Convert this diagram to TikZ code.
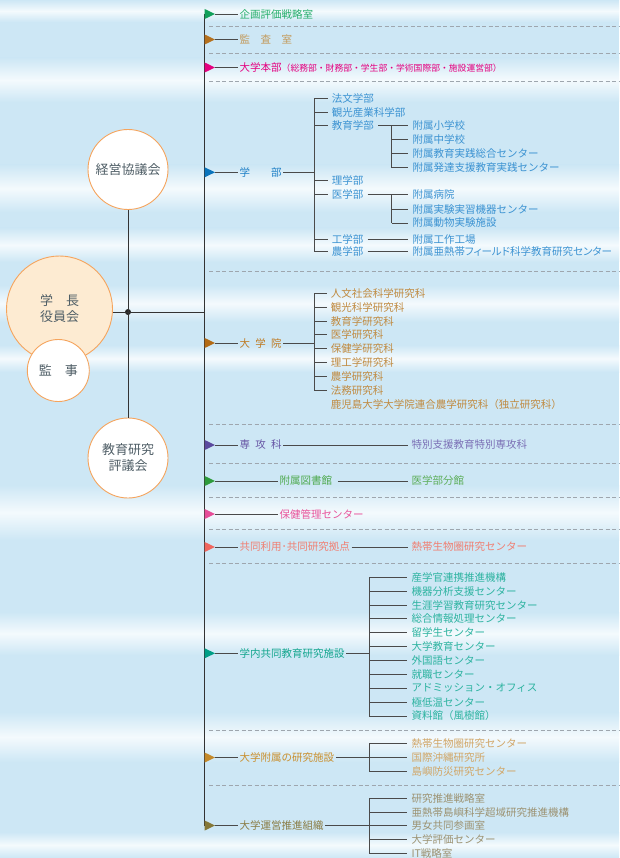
\documentclass[tikz,border=0pt]{standalone}
\usepackage{fontspec}
\setmainfont{Noto Sans CJK JP}
\newfontfamily\paltfont[RawFeature=+palt]{Noto Sans CJK JP}
\usetikzlibrary{calc}
\definecolor{bg}{HTML}{CDE7F5}
\definecolor{bglight}{HTML}{F4FAFD}
\definecolor{lc}{HTML}{4A4A4A}
\definecolor{mlc}{HTML}{333333}
\definecolor{dc}{HTML}{9EA6AE}
\definecolor{orc}{HTML}{F5A45D}
\definecolor{peach}{HTML}{FDEBD2}
\definecolor{ctext}{HTML}{4F5E66}
\definecolor{aA}{HTML}{12A05A}\definecolor{tA}{HTML}{25AE6B}
\definecolor{aB}{HTML}{B5711E}\definecolor{tB}{HTML}{C39A5B}
\definecolor{aC}{HTML}{E4007F}\definecolor{tC}{HTML}{E4007F}
\definecolor{aD}{HTML}{0A74BC}\definecolor{tD}{HTML}{1F80C6}\definecolor{cD}{HTML}{3C93D2}
\definecolor{aE}{HTML}{B36A14}\definecolor{tE}{HTML}{BF7A22}\definecolor{cE}{HTML}{C08A40}
\definecolor{aF}{HTML}{5B4A9E}\definecolor{tF}{HTML}{6756A5}\definecolor{cF}{HTML}{7B6FB5}
\definecolor{aG}{HTML}{2E9B3C}\definecolor{tG}{HTML}{4FAA4F}\definecolor{cG}{HTML}{5DAE5A}
\definecolor{aH}{HTML}{E64D98}\definecolor{tH}{HTML}{E8559C}
\definecolor{aI}{HTML}{F0665E}\definecolor{tI}{HTML}{F07F72}
\definecolor{aJ}{HTML}{009E86}\definecolor{tJ}{HTML}{12A58E}\definecolor{cJ}{HTML}{2DB3A0}
\definecolor{aK}{HTML}{C4892A}\definecolor{tK}{HTML}{C98F2E}\definecolor{cK}{HTML}{D1A667}
\definecolor{aL}{HTML}{857838}\definecolor{tL}{HTML}{8A7C45}\definecolor{cL}{HTML}{9C9272}
\newcommand{\fsItem}{\fontsize{10.5pt}{12pt}\selectfont}
\newcommand{\fsSmall}{\fontsize{8.8pt}{10pt}\selectfont}
\newcommand{\fsCirc}{\fontsize{13pt}{16pt}\selectfont}
\newcommand{\mk}[3]{\coordinate (#1) at (215,#2); \fill[#3] (204.7,{#2-5}) -- (#1) -- (204.7,{#2+5}) -- cycle;}
\tikzset{
  conn/.style={draw=lc, line width=0.9pt},
  mainln/.style={draw=mlc, line width=1pt},
  dsh/.style={draw=dc, line width=0.8pt, dash pattern=on 4pt off 2.5pt},
  lbl/.style={anchor=west, inner xsep=1.5pt, inner ysep=1pt, font=\fsItem},
  item/.style={anchor=west, inner xsep=4pt, inner ysep=1pt, font=\fsItem},
  circ/.style={circle, draw=orc, line width=0.9pt, fill=white, text=ctext, font=\fsCirc, align=center, inner sep=0pt},
  dotn/.style={circle, fill=black!85, inner sep=0pt, minimum size=6pt}
}
\begin{document}
\begin{tikzpicture}[x=1pt,y=-1pt]
\useasboundingbox (0,0) rectangle (619,858);
\fill[bg] (0,0) rectangle (619,858);
\foreach \a/\b in {0/22, 58/102, 165/212, 228/262, 285/322, 345/372, 485/540, 612/655, 712/762, 832/858}{
  \shade[top color=bg, bottom color=bg, middle color=bglight] (0,\a) rectangle (619,\b);
}
% dashed separators
\foreach \y in {26,53,81,271,424,463,497,529,563,730,785}{
  \draw[dsh] (209,\y) -- (619,\y);
}
% main vertical line
\coordinate (mtop) at (204.7,14);
\coordinate (mbot) at (204.7,826);
\draw[mainln] (mtop) -- (mbot);

% left circles
\node[dotn] (jn) at (128,312) {};
\node[circ, minimum size=80pt] (keiei) at (128,169.5) {経営協議会};
\node[circ, minimum size=80pt] (kyogi) at (128,458) {教育研究\\評議会};
\draw[mainln] (keiei.south) -- (kyogi.north);
\node[circ, minimum size=106pt, fill=peach] (gakucho) at (59.5,309) {学　長\\役員会};
\node[circ, minimum size=62pt] (kanji) at (58.3,370.5) {監　事};
\draw[mainln] (gakucho.east |- jn) -- (jn -| mtop);

% 1
\mk{t1}{14}{aA}
\node[lbl, text=tA] (kikaku) at (238,14) {企画評価戦略室};
\draw[conn] (t1) -- (kikaku.west);
% 2
\mk{t2}{39.5}{aB}
\node[lbl, text=tB] (kansa) at (238,39.5) {監　査　室};
\draw[conn] (t2) -- (kansa.west);
% 3
\mk{t3}{67.5}{aC}
\node[lbl, text=tC] (honbu) at (238,67.5) {大学本部{\fsSmall （総務部・財務部・学生部・学術国際部・施設運営部）}};
\draw[conn] (t3) -- (honbu.west);

% 4 学部
\mk{t4}{172.3}{aD}
\node[lbl, text=tD] (gakubu) at (238,172.3) {学　　部};
\draw[conn] (t4) -- (gakubu.west);
\coordinate (gb) at (314,172.3);
\node[item, text=cD] (g1) at (327.7,98.5) {法文学部};
\node[item, text=cD] (g2) at (327.7,112) {観光産業科学部};
\node[item, text=cD] (g3) at (327.7,125.7) {教育学部};
\node[item, text=cD] (g4) at (327.7,180.7) {理学部};
\node[item, text=cD] (g5) at (327.7,194.5) {医学部};
\node[item, text=cD] (g6) at (327.7,239.5) {工学部};
\node[item, text=cD] (g7) at (327.7,251.5) {農学部};
\draw[conn] (gakubu.east) -- (gb);
\draw[conn] (gb |- g1.west) -- (gb |- g7.west);
\foreach \i in {1,...,7}{ \draw[conn] (gb |- g\i.west) -- (g\i.west); }
% 教育学部 sub
\coordinate (eb) at (391.7,125.7);
\node[item, text=cD] (e1) at (408.3,125.7) {附属小学校};
\node[item, text=cD] (e2) at (408.3,139.8) {附属中学校};
\node[item, text=cD] (e3) at (408.3,153.8) {附属教育実践総合センター};
\node[item, text=cD] (e4) at (408.3,167.7) {附属発達支援教育実践センター};
\draw[conn] (g3.east) -- (e1.west);
\draw[conn] (eb) -- (eb |- e4.west);
\foreach \i in {2,3,4}{ \draw[conn] (eb |- e\i.west) -- (e\i.west); }
% 医学部 sub
\coordinate (mb) at (391.7,194.5);
\node[item, text=cD] (m1) at (408.3,194.5) {附属病院};
\node[item, text=cD] (m2) at (408.3,209.3) {附属実験実習機器センター};
\node[item, text=cD] (m3) at (408.3,223) {附属動物実験施設};
\draw[conn] (g5.east) -- (m1.west);
\draw[conn] (mb) -- (mb |- m3.west);
\foreach \i in {2,3}{ \draw[conn] (mb |- m\i.west) -- (m\i.west); }
% 工学部, 農学部
\node[item, text=cD] (k1) at (408.3,239.5) {附属工作工場};
\node[item, text=cD] (k2) at (408.3,251.5) {\paltfont 附属亜熱帯フィールド科学教育研究センター};
\draw[conn] (g6.east) -- (k1.west);
\draw[conn] (g7.east) -- (k2.west);

% 5 大学院
\mk{t5}{343}{aE}
\node[lbl, text=tE] (daigakuin) at (238,343) {大\hspace{.5em}学\hspace{.5em}院};
\draw[conn] (t5) -- (daigakuin.west);
\coordinate (ib) at (314,343);
\foreach \t [count=\i] in {人文社会科学研究科,観光科学研究科,教育学研究科,医学研究科,保健学研究科,理工学研究科,農学研究科,法務研究科}{
  \node[item, text=cE] (i\i) at (326.7,{293.3+13.87*(\i-1)}) {\t};
}
\node[item, text=cE] (i9) at (326.7,404.2) {鹿児島大学大学院連合農学研究科（独立研究科）};
\draw[conn] (daigakuin.east) -- (ib);
\draw[conn] (ib |- i1.west) -- (ib |- i8.west);
\foreach \i in {1,...,8}{ \draw[conn] (ib |- i\i.west) -- (i\i.west); }

% 6 専攻科
\mk{t6}{445}{aF}
\node[lbl, text=tF] (senko) at (238,445) {専\hspace{.5em}攻\hspace{.5em}科};
\node[item, text=cF] (tokubetsu) at (407.5,445) {特別支援教育特別専攻科};
\draw[conn] (t6) -- (senko.west);
\draw[conn] (senko.east) -- (tokubetsu.west);

% 7 附属図書館
\mk{t7}{481}{aG}
\node[lbl, text=tG] (tosho) at (278,481) {附属図書館};
\node[item, text=cG] (bunkan) at (407.5,481) {医学部分館};
\draw[conn] (t7) -- (tosho.west);
\draw[conn] ([xshift=4pt]tosho.east) -- (bunkan.west);

% 8 保健管理センター
\mk{t8}{514}{aH}
\node[lbl, text=tH] (hoken) at (278,514) {保健管理センター};
\draw[conn] (t8) -- (hoken.west);

% 9 共同利用
\mk{t9}{547}{aI}
\node[lbl, text=tI] (kyodo) at (238,547) {共同利用･共同研究拠点};
\node[item, text=tI] (nettai1) at (407.5,547) {熱帯生物圏研究センター};
\draw[conn] (t9) -- (kyodo.west);
\draw[conn] (kyodo.east) -- (nettai1.west);

% 10 学内共同教育研究施設
\mk{t10}{653.3}{aJ}
\node[lbl, text=tJ] (gakunai) at (238,653.3) {学内共同教育研究施設};
\draw[conn] (t10) -- (gakunai.west);
\coordinate (nb) at (369.3,653.3);
\foreach \t [count=\i] in {産学官連携推進機構,機器分析支援センター,生涯学習教育研究センター,総合情報処理センター,留学生センター,大学教育センター,外国語センター,就職センター,アドミッション・オフィス,極低温センター,資料館（風樹館）}{
  \node[item, text=cJ] (n\i) at (407.3,{577.3+13.87*(\i-1)}) {\t};
}
\draw[conn] (gakunai.east) -- (nb);
\draw[conn] (nb |- n1.west) -- (nb |- n11.west);
\foreach \i in {1,...,11}{ \draw[conn] (nb |- n\i.west) -- (n\i.west); }

% 11 大学附属の研究施設
\mk{t11}{757.5}{aK}
\node[lbl, text=tK] (fuzoku) at (238,757.5) {大学附属の研究施設};
\draw[conn] (t11) -- (fuzoku.west);
\coordinate (fb) at (369.3,757.5);
\node[item, text=cK] (f1) at (407.3,743.5) {熱帯生物圏研究センター};
\node[item, text=cK] (f2) at (407.3,757.5) {国際沖縄研究所};
\node[item, text=cK] (f3) at (407.3,771.3) {島嶼防災研究センター};
\draw[conn] (fuzoku.east) -- (fb);
\draw[conn] (fb |- f1.west) -- (fb |- f3.west);
\foreach \i in {1,2,3}{ \draw[conn] (fb |- f\i.west) -- (f\i.west); }

% 12 大学運営推進組織
\mk{t12}{825.5}{aL}
\node[lbl, text=tL] (unei) at (238,825.5) {大学運営推進組織};
\draw[conn] (t12) -- (unei.west);
\coordinate (ub) at (369.3,825.5);
\foreach \t [count=\i] in {研究推進戦略室,亜熱帯島嶼科学超域研究推進機構,男女共同参画室,大学評価センター,IT戦略室}{
  \node[item, text=cL] (u\i) at (407.3,{798.3+13.8*(\i-1)}) {\t};
}
\draw[conn] (unei.east) -- (ub);
\draw[conn] (ub |- u1.west) -- (ub |- u5.west);
\foreach \i in {1,...,5}{ \draw[conn] (ub |- u\i.west) -- (u\i.west); }
\end{tikzpicture}
\end{document}
